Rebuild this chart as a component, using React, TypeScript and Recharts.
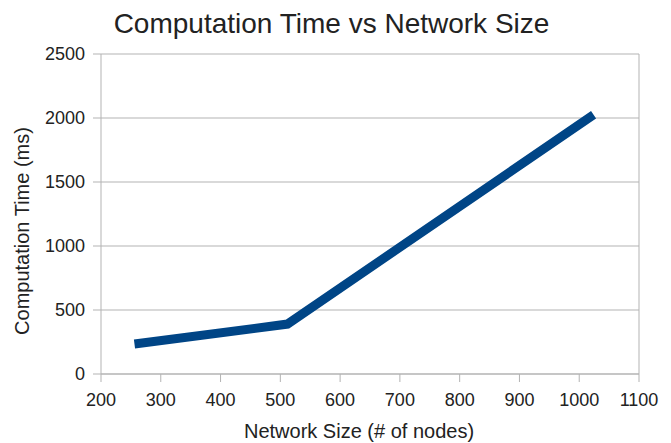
import { CartesianGrid, Line, LineChart, ReferenceLine, XAxis, YAxis } from "recharts";

const nodes = [256, 512, 1024];
const timesMs = [235, 390, 2025];
const xTicks = [200, 300, 400, 500, 600, 700, 800, 900, 1000, 1100];
const yTicks = [0, 500, 1000, 1500, 2000, 2500];

const data = nodes.map((n, i) => ({ n, t: timesMs[i] }));

const font = "'Liberation Sans', Arial, sans-serif";
const grey = "#b3b3b3";
const ink = "#222";

// rotated y title, centred a little below the middle of the plot like the original
function YTitle(props: any) {
  const vb = props.viewBox || { x: 0, y: 0, width: 0, height: 0 };
  const cx = vb.x + 22;
  const cy = vb.y + vb.height / 2 + 17;
  return (
    <text
      x={cx}
      y={cy}
      transform={`rotate(-90 ${cx} ${cy})`}
      textAnchor="middle"
      dominantBaseline="central"
      fill={ink}
      fontSize={20}
      fontFamily={font}
    >
      Computation Time (ms)
    </text>
  );
}

export default function App() {
  return (
    <div style={{ position: "absolute", left: 0, top: 0, width: 671, height: 443, background: "#fff", fontFamily: font }}>
      <div
        style={{
          position: "absolute",
          left: -4,
          width: 671,
          top: 8,
          textAlign: "center",
          fontSize: 28,
          lineHeight: "32px",
          color: ink,
        }}
      >
        Computation Time vs Network Size
      </div>
      <LineChart width={671} height={443} data={data} margin={{ top: 54, right: 32, bottom: 0, left: 0 }}>
        <CartesianGrid vertical={false} stroke={grey} />
        <XAxis
          dataKey="n"
          type="number"
          domain={[200, 1100]}
          ticks={xTicks}
          height={69}
          stroke={grey}
          tickSize={8}
          tickMargin={11}
          tick={{ fill: ink, fontSize: 18, fontFamily: font }}
          label={{ value: "Network Size (# of nodes)", position: "insideBottom", offset: 5, dx: -11, fill: ink, fontSize: 20, fontFamily: font }}
        />
        <YAxis
          type="number"
          domain={[0, 2500]}
          ticks={yTicks}
          width={101}
          stroke={grey}
          tickSize={8}
          tickMargin={8}
          tick={{ fill: ink, fontSize: 18, fontFamily: font }}
          label={{ content: YTitle }}
        />
        <ReferenceLine x={1100} stroke={grey} />
        <Line
          dataKey="t"
          stroke="#004586"
          strokeWidth={9}
          dot={false}
          type="linear"
          strokeLinecap="butt"
          isAnimationActive={false}
        />
      </LineChart>
    </div>
  );
}
